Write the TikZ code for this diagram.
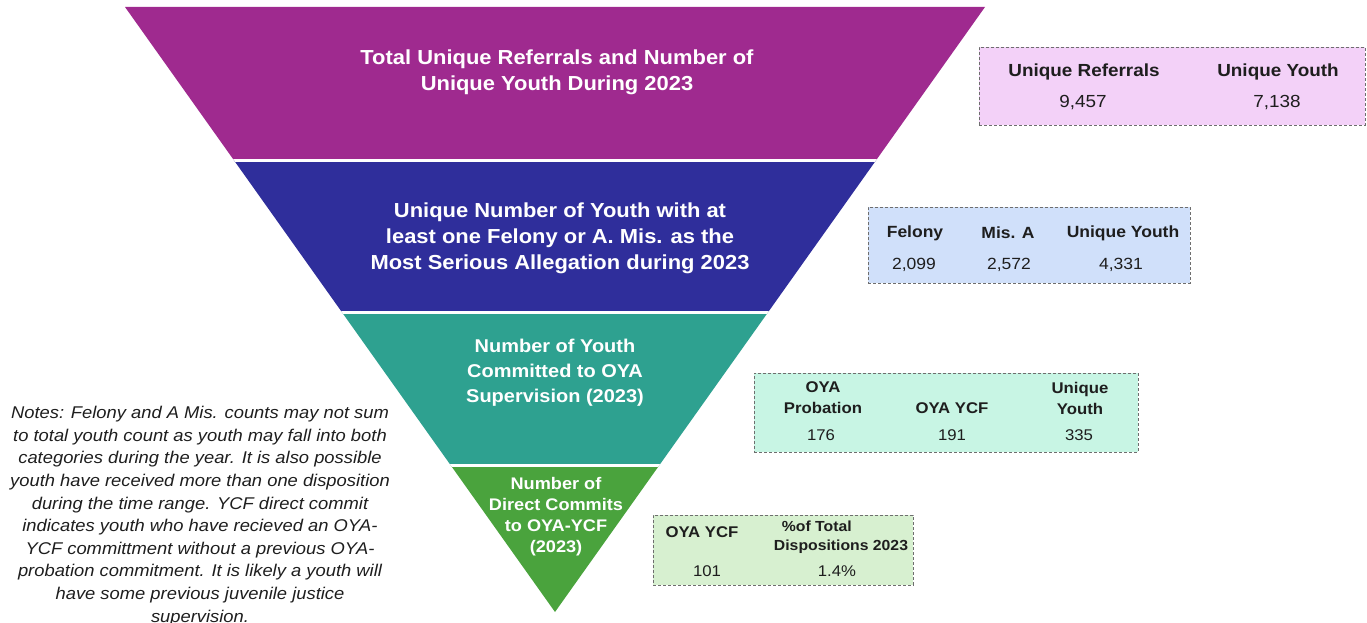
\documentclass[tikz,border=0pt]{standalone}
\usepackage{fontspec}
\setmainfont[FakeStretch=1.08]{Liberation Sans}
\usepackage{xcolor}
\definecolor{funPurple}{HTML}{9F2A8F}
\definecolor{funBlue}{HTML}{2F2E9B}
\definecolor{funTeal}{HTML}{2EA190}
\definecolor{funGreen}{HTML}{4AA33D}
\definecolor{boxPink}{HTML}{F3D1F8}
\definecolor{boxBlue}{HTML}{D0E0FA}
\definecolor{boxMint}{HTML}{C8F5E4}
\definecolor{boxGreen}{HTML}{D7F0D0}
\definecolor{boxBorder}{HTML}{6E6E6E}
\definecolor{noteText}{HTML}{1E1E1E}
\tikzset{
    bandlabel/.style={
        text=white,
        align=center,
        font=\bfseries\fontsize{20.3}{26}\selectfont
    },
    statbox/.style={
        draw=boxBorder,
        densely dashed,
        line width=0.7pt,
        rectangle,
        inner sep=0pt
    },
    colhead/.style={
        align=center,
        text=noteText,
        font=\bfseries\fontsize{15.5}{21}\selectfont
    },
    colval/.style={
        text=noteText,
        font=\fontsize{15.5}{21}\selectfont
    },
    notes/.style={
        align=center,
        text=noteText,
        font=\itshape\fontsize{17}{22.6}\selectfont
    }
}

\begin{document}
\begin{tikzpicture}[x=1pt, y=-1pt]
    \useasboundingbox (0,0) rectangle (1367,623);

    % funnel bands
    \begin{scope}
        \clip (125,7) -- (985,7) -- (555,612) -- cycle;
        \fill[funPurple] (100,0) rectangle (1000,160);
        \fill[funBlue] (100,160) rectangle (1000,312);
        \fill[funTeal] (100,312) rectangle (1000,465);
        \fill[funGreen] (100,465) rectangle (1000,620);
        \foreach \yy in {160,312,465}
            \draw[white, line width=3pt] (100,\yy) -- (1000,\yy);
    \end{scope}

    \node[bandlabel] (referrals) at (557,72) {Total Unique Referrals and Number of\\Unique Youth During 2023};
    \node[bandlabel] (serious) at (560,238) {Unique Number of Youth with at\\least one Felony or A. Mis. as the\\Most Serious Allegation during 2023};
    \node[bandlabel, font=\bfseries\fontsize{18.5}{25}\selectfont] (committed) at (555,373) {Number of Youth\\Committed to OYA\\Supervision (2023)};
    \node[bandlabel, font=\bfseries\fontsize{16.8}{21}\selectfont] (direct) at (556,517) {Number of\\Direct Commits\\to OYA-YCF\\(2023)};

    % stat boxes
    \node[statbox, fill=boxPink, minimum width=386pt, minimum height=78pt] (refbox) at (1172,86) {};
    \node[colhead, font=\bfseries\fontsize{17.5}{21}\selectfont] (refh1) at (1084,72) {Unique Referrals};
    \node[colhead, font=\bfseries\fontsize{17.5}{21}\selectfont] (refh2) at (1278,72) {Unique Youth};
    \node[colval, font=\fontsize{17.5}{21}\selectfont] (refv1) at (1083,103) {9,457};
    \node[colval, font=\fontsize{17.5}{21}\selectfont] (refv2) at (1277,103) {7,138};

    \node[statbox, fill=boxBlue, minimum width=322pt, minimum height=76pt] (felbox) at (1029,245) {};
    \node[colhead, font=\bfseries\fontsize{16.2}{21}\selectfont] (felh1) at (915,233) {Felony};
    \node[colhead, font=\bfseries\fontsize{16.2}{21}\selectfont] (felh2) at (1008,233) {Mis. A};
    \node[colhead, font=\bfseries\fontsize{16.2}{21}\selectfont] (felh3) at (1123,233) {Unique Youth};
    \node[colval, font=\fontsize{16.2}{21}\selectfont] (felv1) at (914,265) {2,099};
    \node[colval, font=\fontsize{16.2}{21}\selectfont] (felv2) at (1009,265) {2,572};
    \node[colval, font=\fontsize{16.2}{21}\selectfont] (felv3) at (1121,265) {4,331};

    \node[statbox, fill=boxMint, minimum width=384pt, minimum height=79pt] (oyabox) at (946,412.5) {};
    \node[colhead] (oyah1) at (823,398) {OYA\\Probation};
    \node[colhead] (oyah2) at (952,408) {OYA YCF};
    \node[colhead] (oyah3) at (1080,398) {Unique\\Youth};
    \node[colval] (oyav1) at (821,435) {176};
    \node[colval] (oyav2) at (952,435) {191};
    \node[colval] (oyav3) at (1079,435) {335};

    \node[statbox, fill=boxGreen, minimum width=260pt, minimum height=70pt] (ycfbox) at (783,550) {};
    \node[colhead] (ycfh1) at (702,532) {OYA YCF};
    \node[colhead, align=left, font=\bfseries\fontsize{14.6}{19}\selectfont] (ycfh2) at (841,537) {\hspace*{8pt}\%of Total\\Dispositions 2023};
    \node[colval] (ycfv1) at (707,571) {101};
    \node[colval] (ycfv2) at (837,571) {1.4\%};

    % notes
    \node[notes] (notes) at (200,516) {Notes: Felony and A Mis. counts may not sum\\to total youth count as youth may fall into both\\categories during the year. It is also possible\\youth have received more than one disposition\\during the time range. YCF direct commit\\indicates youth who have recieved an OYA-\\YCF committment without a previous OYA-\\probation commitment. It is likely a youth will\\have some previous juvenile justice\\supervision.};
\end{tikzpicture}
\end{document}
